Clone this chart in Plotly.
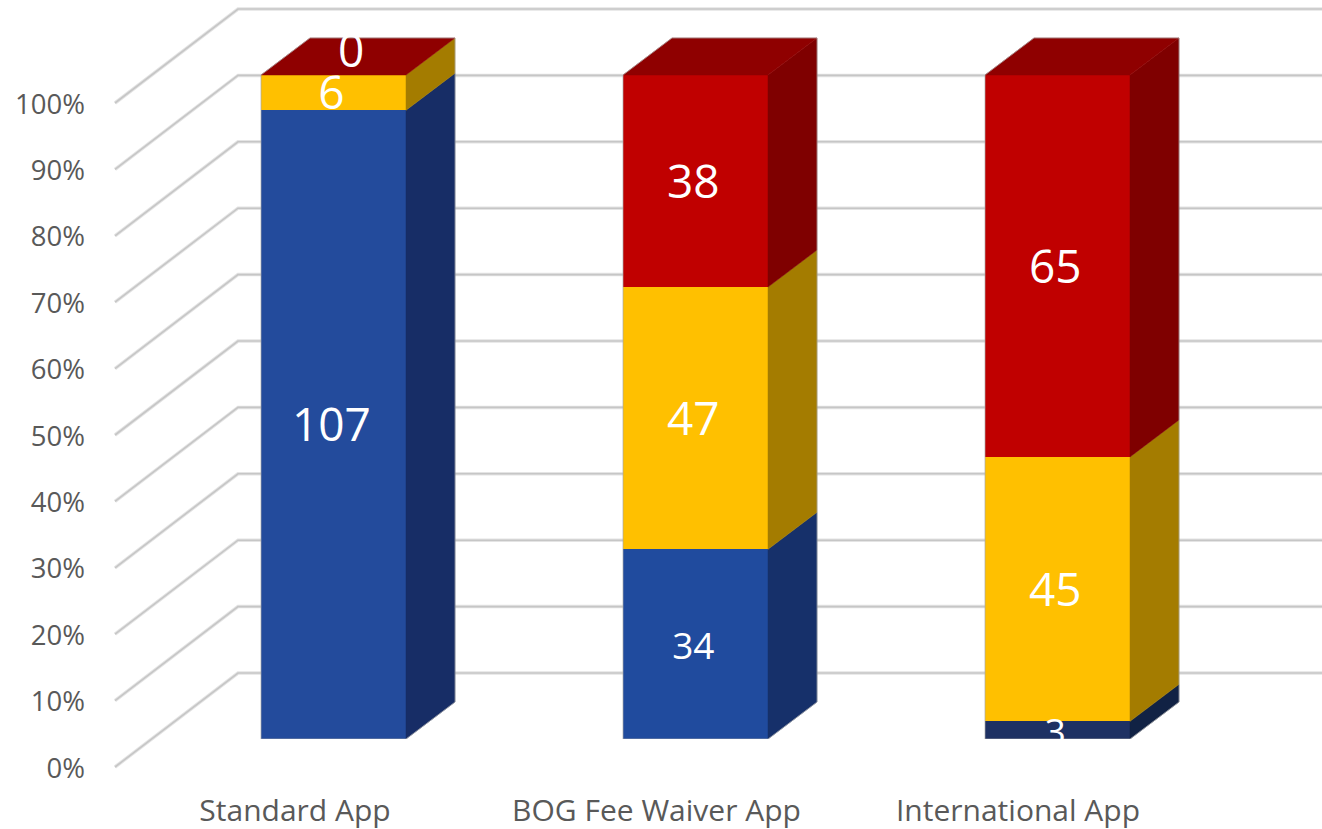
import plotly.graph_objects as go

categories = ["Standard App", "BOG Fee Waiver App", "International App"]
blue_values = [107, 34, 3]
gold_values = [6, 47, 45]
red_values = [0, 38, 65]
percent_ticks = [0, 10, 20, 30, 40, 50, 60, 70, 80, 90, 100]

W, H = 1322, 829
LEFT, BOTTOM = 86, 790          # plot area edges in page pixels
PX_PER_PCT = 6.64
PX_PER_CAT = 362.0
FONT = "Open Sans"

xpos = list(range(len(categories)))
series = [
    dict(vals=blue_values, front=["#234b9c", "#204b9e", "#1e3163"],
         side=["#172d66", "#16306a", "#112244"]),
    dict(vals=gold_values, front=["#ffc000"] * 3, side=["#a47c00"] * 3),
    dict(vals=red_values, front=["#c00000"] * 3, side=["#7f0000"] * 3),
]
totals = [sum(s["vals"][i] for s in series) for i in xpos]

bar_w = 145 / PX_PER_CAT
depth_x = 49 / PX_PER_CAT
depth_y = 37 / PX_PER_PCT

fig = go.Figure()

# ---------- back wall and floor gridlines, on the labelled axes (x, y)
wall_dy = 94 / PX_PER_PCT
label_step = 361.5
x0_label_px, y0_label_px = 295, 768
grid_drop = 1 / PX_PER_PCT
x_lab_lo = (LEFT - x0_label_px) / label_step
x_lab_hi = (W - x0_label_px) / label_step
y_lab_lo = (y0_label_px - BOTTOM) / PX_PER_PCT
y_lab_hi = y0_label_px / PX_PER_PCT
start_x = (115 - x0_label_px) / label_step
corner_x = (238 - x0_label_px) / label_step
gx, gy = [], []
for t in percent_ticks:
    gx += [start_x, corner_x, x_lab_hi, None]
    gy += [t + grid_drop, t + grid_drop + wall_dy, t + grid_drop + wall_dy, None]
for color, width in (("#e4e4e4", 3.5), ("#c6c6c6", 1.6)):
    fig.add_trace(go.Scatter(x=gx, y=gy, mode="lines", xaxis="x", yaxis="y",
                             line=dict(color=color, width=width),
                             hoverinfo="skip", showlegend=False))

# ---------- front faces
for s in series:
    fig.add_trace(go.Bar(x=xpos, y=s["vals"], width=bar_w, xaxis="x2", yaxis="y2",
                         marker=dict(color=s["front"], line=dict(width=0)),
                         hoverinfo="skip", showlegend=False))


def poly(xs, ys, color):
    fig.add_trace(go.Scatter(x=xs, y=ys, mode="lines", fill="toself", fillcolor=color,
                             line=dict(width=0.5, color=color), xaxis="x2", yaxis="y2",
                             hoverinfo="skip", showlegend=False))


# ---------- side and top faces, derived from the same values
text_nudge = 0.8
text_shift = 0.006
label_x, label_y, label_t, label_s = [], [], [], []
for i in xpos:
    r = i + bar_w / 2
    l = i - bar_w / 2
    lo = 0.0
    for s in series:
        v = s["vals"][i]
        hi = lo + 100 * v / totals[i]
        if v > 0:
            poly([r, r + depth_x, r + depth_x, r, r],
                 [lo, lo + depth_y, hi + depth_y, hi, lo], s["side"][i])
        if v == 0:
            label_x.append(i + depth_x * 0.36)
            label_y.append(hi + depth_y * 0.68 - text_nudge)
        else:
            label_x.append(i - text_shift)
            label_y.append((lo + hi) / 2 - text_nudge)
        label_t.append(str(v))
        label_s.append(37 if v in (3, 34) else 46)
        lo = hi
    poly([l, r, r + depth_x, l + depth_x, l],
         [100, 100, 100 + depth_y, 100 + depth_y, 100], "#8f0000")
    fig.add_trace(go.Scatter(
        x=[l, l, l + depth_x, r + depth_x, r + depth_x, r, l],
        y=[0, 100, 100 + depth_y, 100 + depth_y, depth_y, 0, 0],
        mode="lines", line=dict(color="rgba(170,170,170,0.7)", width=1),
        xaxis="x2", yaxis="y2", hoverinfo="skip", showlegend=False))

# ---------- value labels, clipped to the bars' plot area
fig.add_trace(go.Scatter(x=label_x, y=label_y, text=label_t, mode="text",
                         textposition="middle center", cliponaxis=True,
                         textfont=dict(family=FONT, color="white", size=label_s),
                         xaxis="x2", yaxis="y2", hoverinfo="skip", showlegend=False))

PH = BOTTOM
BAR_BASE, CLIP_TOP = 739, 35
bar_x0 = 333.5
fig.update_layout(
    width=W, height=H, autosize=False,
    margin=dict(l=LEFT, r=0, t=0, b=H - BOTTOM),
    paper_bgcolor="white", plot_bgcolor="rgba(0,0,0,0)",
    barmode="stack", barnorm="percent", showlegend=False,
    xaxis=dict(range=[x_lab_lo, x_lab_hi], tickmode="array", tickvals=xpos, ticktext=categories,
               showgrid=False, zeroline=False, showline=False, ticks="",
               tickfont=dict(family=FONT, size=30, color="#595959")),
    yaxis=dict(range=[y_lab_lo, y_lab_hi], tickmode="array", tickvals=percent_ticks,
               ticktext=[f"{t}%" for t in percent_ticks],
               showgrid=False, zeroline=False, showline=False, ticks="",
               tickfont=dict(family=FONT, size=27.5, color="#595959")),
    xaxis2=dict(domain=[0, 1], anchor="y2", visible=False,
                range=[(LEFT - bar_x0) / PX_PER_CAT, (W - bar_x0) / PX_PER_CAT]),
    yaxis2=dict(domain=[(PH - BAR_BASE) / PH, (PH - CLIP_TOP) / PH], anchor="x2", visible=False,
                range=[0, (BAR_BASE - CLIP_TOP) / PX_PER_PCT]),
)
fig.write_html("out.html", config={"displayModeBar": False},
               post_script="document.body.style.margin='0';document.body.style.overflow='hidden';")
